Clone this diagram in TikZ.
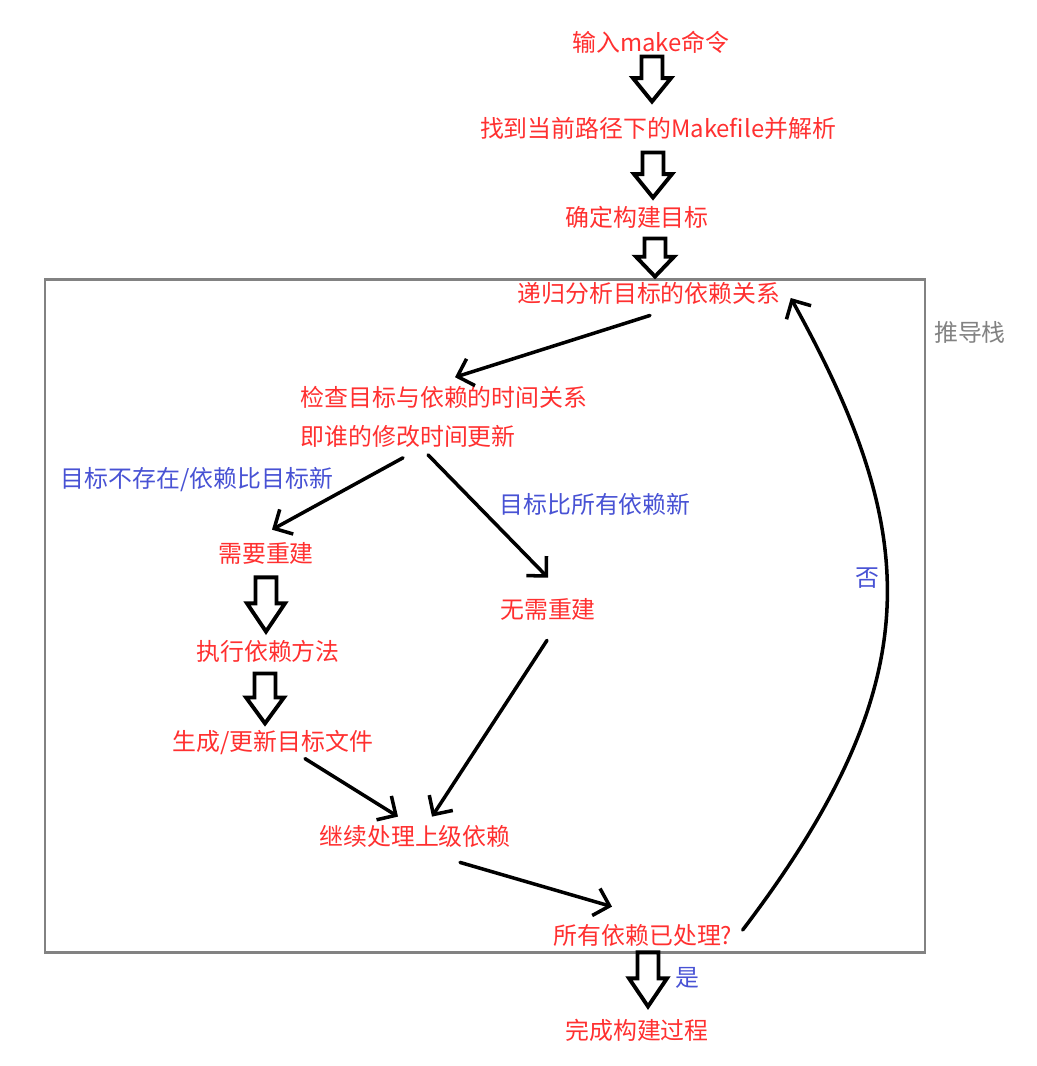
\documentclass[tikz,border=0pt]{standalone}
\usepackage{fontspec}
\setmainfont{Noto Sans CJK SC}
\usepackage{xcolor}
\usetikzlibrary{arrows.meta,calc}

\definecolor{stepred}{RGB}{255,48,48}
\definecolor{condblue}{RGB}{72,82,212}
\definecolor{stackgray}{RGB}{130,130,130}

% hollow block arrow from #1 down to #2 (x taken from #1)
\newcommand{\hollowarrow}[2]{%
  \draw[hollow] let \p1=#1, \p2=#2, \n1={\y1+0.48*(\y2-\y1)} in
    (\x1-0.21cm,\y1) -- (\x1+0.21cm,\y1) -- (\x1+0.21cm,\n1) -- (\x1+0.38cm,\n1)
    -- (\x1,\y2) -- (\x1-0.38cm,\n1) -- (\x1-0.21cm,\n1) -- cycle;}

\begin{document}
\begin{tikzpicture}[x=0.02cm, y=-0.02cm,
  txt/.style={inner sep=0pt, text=stepred, font=\fontsize{13.6pt}{22pt}\selectfont},
  cond/.style={txt, text=condblue},
  arr/.style={-{Straight Barb[length=8pt,width=16pt]}, line width=2pt, line cap=round, line join=round},
  hollow/.style={draw, line width=2.2pt, line join=miter, fill=white},
  stackbox/.style={draw=stackgray, line width=1.7pt}]
  \useasboundingbox (0,0) rectangle (1037,1066);

  % derivation stack
  \draw[stackbox] (45,279) rectangle (925,952);
  \node[txt, text=stackgray] (stack) at (970,332) {推导栈};

  % steps
  \node[txt] (cmd) at (651,42) {输入make命令};
  \node[txt] (find) at (658,128) {找到当前路径下的Makefile并解析};
  \node[txt] (goal) at (637,217) {确定构建目标};
  \node[txt] (deps) at (649,293) {递归分析目标的依赖关系};
  \node[txt, align=left] (check) at (444,417) {检查目标与依赖的时间关系\\即谁的修改时间更新};
  \node[txt] (need) at (266,553) {需要重建};
  \node[txt] (exec) at (268,651) {执行依赖方法};
  \node[txt] (gen) at (273,743) {生成/更新目标文件};
  \node[txt] (skip) at (548,609) {无需重建};
  \node[txt] (cont) at (415,836) {继续处理上级依赖};
  \node[txt] (alldone) at (643,935) {所有依赖已处理?};
  \node[txt] (finish) at (637,1030) {完成构建过程};

  % conditions
  \node[cond] (lnew) at (197,480) {目标不存在/依赖比目标新};
  \node[cond] (lold) at (595,504) {目标比所有依赖新};
  \node[cond] (lno) at (867,578) {否};
  \node[cond] (lyes) at (687,978) {是};

  \hollowarrow{([shift={(1,3)}]cmd.south)}{([shift={(0,-15)}]find.north)}
  \hollowarrow{([shift={(-5,13)}]find.south)}{([shift={(0,-8)}]goal.north)}
  \hollowarrow{([shift={(18,10)}]goal.south)}{([shift={(0,-5)}]deps.north)}
  \hollowarrow{([shift={(0,13)}]need.south)}{([shift={(0,-8)}]exec.north)}
  \hollowarrow{([shift={(-3,11)}]exec.south)}{([shift={(0,-7)}]gen.north)}
  \hollowarrow{([shift={(5,6)}]alldone.south)}{([shift={(0,-12)}]finish.north)}

  \draw[arr] ([shift={(1,11)}]deps.south) -- ([shift={(11,-9)}]check.north);
  \draw[arr] ([shift={(-41,10)}]check.south) -- ([shift={(6,-12)}]need.north);
  \draw[arr] ([shift={(-16,7)}]check.south) -- ([shift={(0,-20)}]skip.north);
  \draw[arr] ([shift={(32,3)}]gen.south) -- ([shift={(-17,-8)}]cont.north);
  \draw[arr] ([shift={(-1,20)}]skip.south) -- ([shift={(17,-8)}]cont.north);
  \draw[arr] ([shift={(45,15)}]cont.south) -- ([shift={(-31,-17)}]alldone.north);
  \draw[arr] ([shift={(10,-5)}]alldone.east) .. controls +(190,-250) and +(130,235) .. ([shift={(10,5)}]deps.east);
\end{tikzpicture}
\end{document}
